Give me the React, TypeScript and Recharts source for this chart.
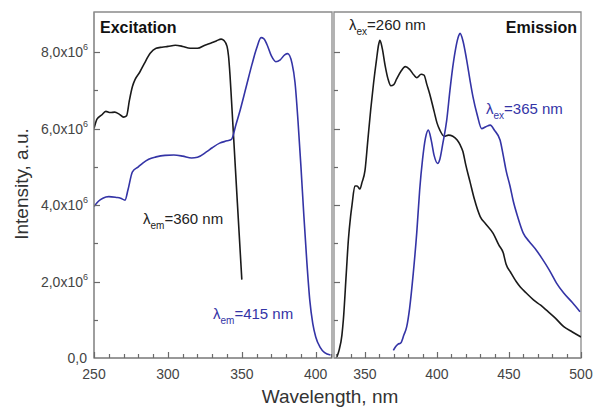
import React from 'react';
import { LineChart, Line, XAxis, YAxis, ReferenceArea } from 'recharts';

// Excitation, lambda_em = 360 nm (black)
const exc360Wl = [250, 252, 255, 258, 261, 264, 267, 270, 272, 274, 276, 278, 281, 284, 288, 292, 296, 300, 305, 310, 315, 320, 325, 330, 333, 336, 338, 340, 341, 342, 343, 345, 347, 350];
const exc360Int = [6.0, 6.25, 6.35, 6.45, 6.42, 6.43, 6.38, 6.3, 6.33, 6.75, 7.1, 7.3, 7.48, 7.7, 7.97, 8.1, 8.13, 8.15, 8.18, 8.15, 8.1, 8.1, 8.18, 8.25, 8.3, 8.34, 8.3, 8.15, 7.9, 7.4, 6.75, 5.4, 4.05, 2.05];

// Excitation, lambda_em = 415 nm (blue)
const exc415Wl = [250, 253, 256, 260, 265, 268, 271, 273, 276, 280, 283, 287, 292, 298, 304, 310, 316, 320, 326, 330, 335, 340, 343, 346, 349, 353, 357, 360, 363, 365, 367, 370, 373, 376, 379, 381, 384, 386, 388, 390, 392, 394, 396, 398, 400, 403, 406, 410];
const exc415Int = [3.96, 4.1, 4.18, 4.22, 4.2, 4.18, 4.13, 4.4, 4.87, 5.0, 5.1, 5.2, 5.26, 5.3, 5.31, 5.28, 5.23, 5.25, 5.39, 5.5, 5.62, 5.68, 5.72, 6.1, 6.5, 7.1, 7.7, 8.1, 8.38, 8.35, 8.2, 7.9, 7.75, 7.8, 7.93, 7.96, 7.7, 7.2, 6.2, 5.0, 3.7, 2.5, 1.5, 0.9, 0.55, 0.28, 0.14, 0.08];

// Emission, lambda_ex = 260 nm (black)
const em260Wl = [330.5, 332, 334, 335, 337, 338.5, 340, 341, 343, 344.5, 346.5, 348, 350, 352, 354, 356, 358, 359.5, 360.4, 362, 364, 366, 368, 370, 372, 375, 378, 381, 384, 386, 389, 391, 393, 395, 398, 400, 402, 405, 408, 411, 414, 416, 418, 420, 423, 426, 430, 434, 439, 443, 446, 448, 451, 455, 458, 462, 467, 472, 476, 482, 488, 494, 500];
const em260Int = [0.03, 0.2, 0.6, 1.0, 2.2, 3.1, 3.7, 4.0, 4.5, 4.5, 4.42, 4.6, 4.9, 5.7, 6.5, 7.2, 7.8, 8.2, 8.31, 8.1, 7.65, 7.3, 7.12, 7.15, 7.3, 7.5, 7.62, 7.55, 7.4, 7.33, 7.42, 7.4, 7.15, 6.9, 6.45, 6.15, 5.96, 5.8, 5.83, 5.8, 5.7, 5.58, 5.4, 5.05, 4.6, 4.15, 3.7, 3.5, 3.26, 2.95, 2.75, 2.45, 2.25, 2.0, 1.85, 1.7, 1.52, 1.38, 1.25, 1.05, 0.82, 0.68, 0.55];

// Emission, lambda_ex = 365 nm (blue)
const em365Wl = [369.7, 371, 373, 375, 377, 379, 381, 383.5, 386, 388, 390, 392, 394, 396, 398, 400.5, 402, 404, 406.7, 409, 411, 413, 415, 416, 418, 420.6, 423, 425, 428, 431, 434, 437, 440, 443.8, 446, 448, 450.7, 453, 456, 460, 464, 469, 473, 478, 483, 488, 494, 499.3];
const em365Int = [0.2, 0.28, 0.36, 0.4, 0.6, 0.82, 1.3, 2.2, 3.3, 4.4, 5.2, 5.75, 5.96, 5.7, 5.3, 5.09, 5.2, 5.6, 6.2, 7.0, 7.62, 8.1, 8.42, 8.49, 8.3, 7.8, 7.25, 6.83, 6.35, 6.0, 6.05, 6.09, 5.95, 5.7, 5.3, 4.9, 4.5, 4.1, 3.7, 3.26, 3.05, 2.82, 2.6, 2.3, 1.96, 1.7, 1.45, 1.21];

const excTicks = [250, 260, 270, 280, 290, 300, 310, 320, 330, 340, 350, 360, 370, 380, 390, 400, 410];
const emTicks = [330, 340, 350, 360, 370, 380, 390, 400, 410, 420, 430, 440, 450, 460, 470, 480, 490, 500];
const yTicks = [0, 1, 2, 3, 4, 5, 6, 7, 8];

const EXC_DOMAIN = [250, 411];
const EM_DOMAIN = [328.5, 500];
const Y_MAX = 9.05;

// plot boxes (pixels) shared by the charts and the tick overlay
const PLOT_TOP = 12;
const PLOT_BOTTOM = 358;
const EXC_LEFT = 94;
const EXC_RIGHT = 332;
const EM_LEFT = 334;
const EM_RIGHT = 581;

const FONT = 'Liberation Sans, Arial, sans-serif';
const BLACK = '#1a1a1a';
const BLUE = '#3434a6';
const GRAY = '#8a8a8a';
const TICK = '#6a6a6a';

const pts = (xs: number[], ys: number[]) => xs.map((x, i) => ({ x, y: ys[i] }));

const XTick = (props: any) => {
  const { x, y, payload } = props;
  const v = payload.value;
  if (v % 50 !== 0) return <g />;
  return (
    <text x={x} y={y + 21} textAnchor="middle" fontSize={14} fill="#444" fontFamily={FONT}>
      {v}
    </text>
  );
};

const YTick = (props: any) => {
  const { x, y, payload } = props;
  const v = payload.value;
  if (v % 2 !== 0) return <g />;
  if (v === 0) {
    return (
      <text x={x - 7} y={y} dy={5} textAnchor="end" fontSize={14} fill="#444" fontFamily={FONT}>
        0,0
      </text>
    );
  }
  return (
    <text x={x - 6} y={y} dy={5} textAnchor="end" fontSize={14} fill="#444" fontFamily={FONT}>
      {v.toFixed(1).replace('.', ',')}x10
      <tspan dy={-7} fontSize={9}>6</tspan>
    </text>
  );
};

const Lambda = ({ x, y, sub, rest, color }: { x: number; y: number; sub: string; rest: string; color: string }) => (
  <text x={x} y={y} fontSize={15} fill={color} fontFamily={FONT}>
    λ<tspan dy={5} fontSize={10}>{sub}</tspan>
    <tspan dy={-5}>{rest}</tspan>
  </text>
);

// inward tick marks for one panel, placed with the same linear mapping as the chart
const PanelTicks = ({ ticks, domain, left, right }: { ticks: number[]; domain: number[]; left: number; right: number }) => {
  const sx = (v: number) => left + ((v - domain[0]) / (domain[1] - domain[0])) * (right - left);
  const sy = (v: number) => PLOT_BOTTOM - (v / Y_MAX) * (PLOT_BOTTOM - PLOT_TOP);
  return (
    <g stroke={TICK} strokeWidth={1.2}>
      {ticks.map((t) => {
        const px = Math.round(sx(t)) + 0.5;
        return <line key={`x${t}`} x1={px} x2={px} y1={PLOT_BOTTOM} y2={PLOT_BOTTOM - (t % 50 === 0 ? 6 : 4)} />;
      })}
      {yTicks
        .filter((v) => v > 0)
        .map((v) => {
          const py = Math.round(sy(v)) + 0.5;
          return <line key={`y${v}`} x1={left} x2={left + (v % 2 === 0 ? 6 : 4)} y1={py} y2={py} />;
        })}
    </g>
  );
};

export default function App() {
  return (
    <div style={{ position: 'absolute', left: 0, top: 0, width: 594, height: 408, background: '#fff' }}>
      <div style={{ position: 'absolute', left: 0, top: 0 }}>
        <LineChart width={340} height={408} data={pts(exc360Wl, exc360Int)} margin={{ top: PLOT_TOP, right: 340 - EXC_RIGHT, bottom: 30, left: EXC_LEFT - 60 }}>
          <XAxis
            type="number"
            dataKey="x"
            domain={EXC_DOMAIN}
            ticks={excTicks}
            interval={0}
            tickLine={false}
            tickSize={0}
            tickMargin={0}
            height={20}
            allowDataOverflow
            stroke={GRAY}
            tick={<XTick />}
          />
          <YAxis
            type="number"
            dataKey="y"
            domain={[0, Y_MAX]}
            ticks={yTicks}
            interval={0}
            tickLine={false}
            tickSize={0}
            tickMargin={0}
            width={60}
            allowDataOverflow
            stroke={GRAY}
            tick={<YTick />}
          />
          <ReferenceArea x1={EXC_DOMAIN[0]} x2={EXC_DOMAIN[1]} y1={0} y2={Y_MAX} fill="none" stroke={GRAY} strokeWidth={1.3} />
          <Line dataKey="y" type="monotone" stroke={BLACK} strokeWidth={1.6} dot={false} isAnimationActive={false} />
          <Line data={pts(exc415Wl, exc415Int)} dataKey="y" type="monotone" stroke={BLUE} strokeWidth={1.6} dot={false} isAnimationActive={false} />
        </LineChart>
      </div>
      <div style={{ position: 'absolute', left: 300, top: 0 }}>
        <LineChart width={294} height={408} data={pts(em260Wl, em260Int)} margin={{ top: PLOT_TOP, right: 594 - EM_RIGHT, bottom: 30, left: EM_LEFT - 300 }}>
          <XAxis
            type="number"
            dataKey="x"
            domain={EM_DOMAIN}
            ticks={emTicks}
            interval={0}
            tickLine={false}
            tickSize={0}
            tickMargin={0}
            height={20}
            allowDataOverflow
            stroke={GRAY}
            tick={<XTick />}
          />
          <YAxis
            type="number"
            dataKey="y"
            domain={[0, Y_MAX]}
            ticks={yTicks}
            interval={0}
            tickLine={false}
            tickSize={0}
            tickMargin={0}
            width={0}
            allowDataOverflow
            stroke={GRAY}
            tick={false}
          />
          <ReferenceArea x1={EM_DOMAIN[0]} x2={EM_DOMAIN[1]} y1={0} y2={Y_MAX} fill="none" stroke={GRAY} strokeWidth={1.3} />
          <Line dataKey="y" type="monotone" stroke={BLACK} strokeWidth={1.6} dot={false} isAnimationActive={false} />
          <Line data={pts(em365Wl, em365Int)} dataKey="y" type="monotone" stroke={BLUE} strokeWidth={1.6} dot={false} isAnimationActive={false} />
        </LineChart>
      </div>
      <svg width={594} height={408} style={{ position: 'absolute', left: 0, top: 0, pointerEvents: 'none' }}>
        <PanelTicks ticks={excTicks} domain={EXC_DOMAIN} left={EXC_LEFT} right={EXC_RIGHT} />
        <PanelTicks ticks={emTicks} domain={EM_DOMAIN} left={EM_LEFT} right={EM_RIGHT} />
        <text x={100} y={33} fontSize={16} fontWeight="bold" fill="#111" fontFamily={FONT}>Excitation</text>
        <text x={577} y={33} fontSize={16} fontWeight="bold" fill="#111" fontFamily={FONT} textAnchor="end">Emission</text>
        <Lambda x={349} y={30} sub="ex" rest="=260 nm" color="#222" />
        <Lambda x={486} y={114} sub="ex" rest="=365 nm" color={BLUE} />
        <Lambda x={143} y={224} sub="em" rest="=360 nm" color="#222" />
        <Lambda x={213} y={319} sub="em" rest="=415 nm" color={BLUE} />
        <text x={330} y={403} fontSize={19} fill="#333" fontFamily={FONT} textAnchor="middle">Wavelength, nm</text>
        <text x={28} y={184} fontSize={19} fill="#333" fontFamily={FONT} textAnchor="middle" transform="rotate(-90 28 184)">Intensity, a.u.</text>
      </svg>
    </div>
  );
}
